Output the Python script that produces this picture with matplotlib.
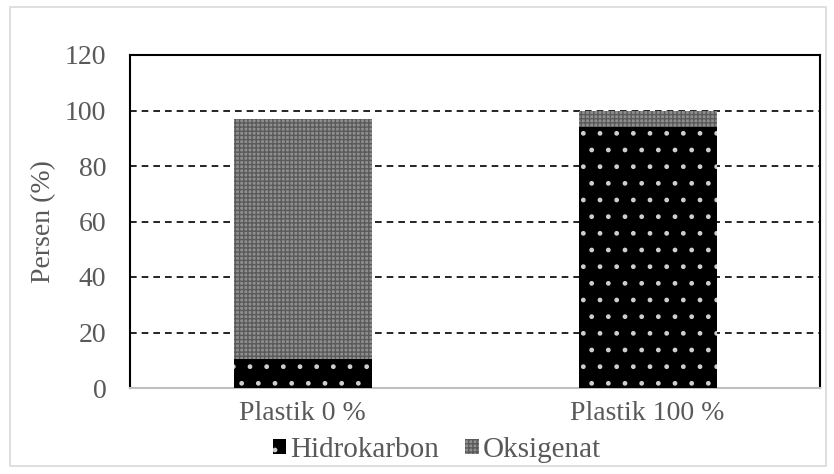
import matplotlib
matplotlib.use("Agg")
import matplotlib.pyplot as plt
from matplotlib.patches import Rectangle
import numpy as np

categories = ["Plastik 0 %", "Plastik 100 %"]
hidrokarbon = [10.5, 94]
oksigenat = [86.5, 6]
yticks = [0, 20, 40, 60, 80, 100, 120]

plt.rcParams['font.family'] = ['Liberation Serif', 'DejaVu Serif']
plt.rcParams['hatch.linewidth'] = 1.0
txt = '#595959'
fs = 20

fig = plt.figure(figsize=(8.34, 4.74), dpi=100)
ax = fig.add_axes([130/834, 1-388/474, 690/834, 333/474])

x = np.arange(len(categories))
ax.bar(x, hidrokarbon, width=0.4, color='black', hatch='.', edgecolor='#cfcfcf', linewidth=0, label='Hidrokarbon', zorder=3)
ax.bar(x, oksigenat, bottom=hidrokarbon, width=0.4, color='#8f8f8f', hatch='++++', edgecolor='#5a5a5a', linewidth=0, label='Oksigenat', zorder=3)

ax.set_xlim(-0.5, 1.5)
ax.set_ylim(0, 120)
ax.set_yticks(yticks)
ax.set_xticks(x)
ax.set_xticklabels(categories)
ax.tick_params(axis='both', length=0, labelsize=fs, labelcolor=txt)
ax.tick_params(axis='y', pad=17)
ax.tick_params(axis='x', pad=9)
ax.yaxis.grid(True, linestyle=(0, (4, 3)), color='black', linewidth=1.2, zorder=1)
ax.set_axisbelow(True)
for s in ['left', 'right', 'top']:
    ax.spines[s].set_color('black')
    ax.spines[s].set_linewidth(1.5)
ax.spines['bottom'].set_color('#bfbfbf')
ax.spines['bottom'].set_linewidth(1.5)
ax.set_ylabel('Persen (%)', fontsize=fs, color=txt, labelpad=6)

leg = fig.legend(loc='center', bbox_to_anchor=(437/834, 1-450/474), ncol=2, frameon=False,
                 fontsize=21, handlelength=0.45, handleheight=0.45, handletextpad=0.15, columnspacing=0.9,
                 borderpad=0)
for t in leg.get_texts():
    t.set_color(txt)

fig.patches.append(Rectangle((10/834, 1-466/474), 816/834, 459/474, transform=fig.transFigure,
                             fill=False, edgecolor='#d9d9d9', linewidth=1.2))
fig.savefig('out.png', dpi=100)
